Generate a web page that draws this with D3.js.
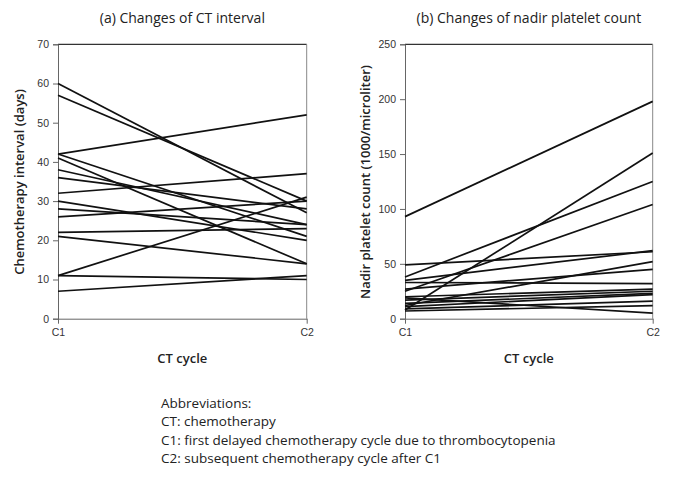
<!DOCTYPE html>
<html>
<head>
<meta charset="utf-8">
<script src="https://cdn.jsdelivr.net/npm/d3@7"></script>
<style>
  body { margin: 0; background: #fff; }
  .tick text { font-family: "Liberation Sans", Arial, sans-serif; font-size: 10.5px; fill: #333; }
  .ttl { font-family: "Open Sans", "Noto Sans", sans-serif; font-size: 14px; fill: #222; }
  .axt { font-family: "Open Sans", "Noto Sans", sans-serif; font-size: 13px; font-weight: 600; fill: #222; }
  .note { font-family: "Open Sans", "Noto Sans", sans-serif; font-size: 13.5px; fill: #222; }
</style>
</head>
<body>
<div id="chart"></div>
<script>
// cycles on the x axis
var cycles = ["C1", "C2"];

// (a) chemotherapy interval in days, one entry per patient
var intervalC1 = [60, 57, 42, 42, 41, 38, 36, 32, 30, 28, 26, 22, 21, 11, 11, 7];
var intervalC2 = [27, 30, 52, 21, 14, 24, 28, 37, 20, 24, 30, 23, 14, 31, 10, 11];
var intervalTicks = [0, 10, 20, 30, 40, 50, 60, 70];

// (b) nadir platelet count (1000/microliter)
var plateletC1 = [93, 49, 38, 35, 33, 27, 25, 20, 19, 17, 14, 12, 11, 9, 8, 7];
var plateletC2 = [198, 61, 125, 62, 32, 45, 104, 27, 5, 25, 23, 52, 22, 16, 151, 12];
var plateletTicks = [0, 50, 100, 150, 200, 250];

var notes = [
  "Abbreviations:",
  "CT: chemotherapy",
  "C1: first delayed chemotherapy cycle due to thrombocytopenia",
  "C2: subsequent chemotherapy cycle after C1"
];

var svg = d3.select("#chart").append("svg")
    .attr("width", 682)
    .attr("height", 480);

function panel(opts) {
  var x = d3.scalePoint().domain(cycles).range([opts.left, opts.right]);
  var y = d3.scaleLinear().domain([0, d3.max(opts.ticks)]).range([318.7, 44.3]);

  var g = svg.append("g");

  // frame top + right
  g.append("line")
    .attr("x1", opts.left).attr("x2", opts.right)
    .attr("y1", y.range()[1]).attr("y2", y.range()[1])
    .attr("stroke", "#333").attr("stroke-width", 1.2);
  g.append("line")
    .attr("x1", opts.right).attr("x2", opts.right)
    .attr("y1", y.range()[0]).attr("y2", y.range()[1])
    .attr("stroke", "#888").attr("stroke-width", 1);

  // y axis
  var ya = g.append("g")
    .attr("transform", "translate(" + opts.left + ",0)")
    .call(d3.axisLeft(y).tickValues(opts.ticks).tickSize(5).tickPadding(4));
  ya.select(".domain").attr("stroke", "#666");
  ya.selectAll(".tick line").attr("stroke", "#666");

  // x axis
  var xa = g.append("g")
    .attr("transform", "translate(0," + y.range()[0] + ")")
    .call(d3.axisBottom(x).tickSize(5).tickPadding(5).tickSizeOuter(0));
  xa.select(".domain").attr("stroke", "#666");
  xa.selectAll(".tick line").attr("stroke", "#666");

  // patient lines
  var rows = opts.c1.map(function(v, i) { return [v, opts.c2[i]]; });
  g.selectAll("line.pt")
    .data(rows)
    .enter()
    .append("line")
    .attr("class", "pt")
    .attr("x1", x("C1"))
    .attr("x2", x("C2"))
    .attr("y1", function(d) { return y(d[0]); })
    .attr("y2", function(d) { return y(d[1]); })
    .attr("stroke", "#111")
    .attr("stroke-width", 1.7);

  var cx = (opts.left + opts.right) / 2;
  g.append("text").attr("class", "ttl")
    .attr("x", cx).attr("y", 23)
    .attr("text-anchor", "middle")
    .text(opts.title);

  g.append("text").attr("class", "axt")
    .attr("x", cx).attr("y", 363)
    .attr("text-anchor", "middle")
    .text("CT cycle");

  g.append("text").attr("class", "axt")
    .attr("transform", "translate(" + opts.ylabX + ",182) rotate(-90)")
    .attr("text-anchor", "middle")
    .text(opts.ylab);
}

panel({
  left: 58, right: 306.7,
  c1: intervalC1, c2: intervalC2, ticks: intervalTicks,
  title: "(a) Changes of CT interval",
  ylab: "Chemotherapy interval (days)", ylabX: 24
});

panel({
  left: 405, right: 652.7,
  c1: plateletC1, c2: plateletC2, ticks: plateletTicks,
  title: "(b) Changes of nadir platelet count",
  ylab: "Nadir platelet count (1000/microliter)", ylabX: 370
});

svg.selectAll("text.note")
  .data(notes)
  .enter()
  .append("text")
  .attr("class", "note")
  .attr("x", 161)
  .attr("y", function(d, i) { return 408 + i * 18.3; })
  .text(function(d) { return d; });
</script>
</body>
</html>
